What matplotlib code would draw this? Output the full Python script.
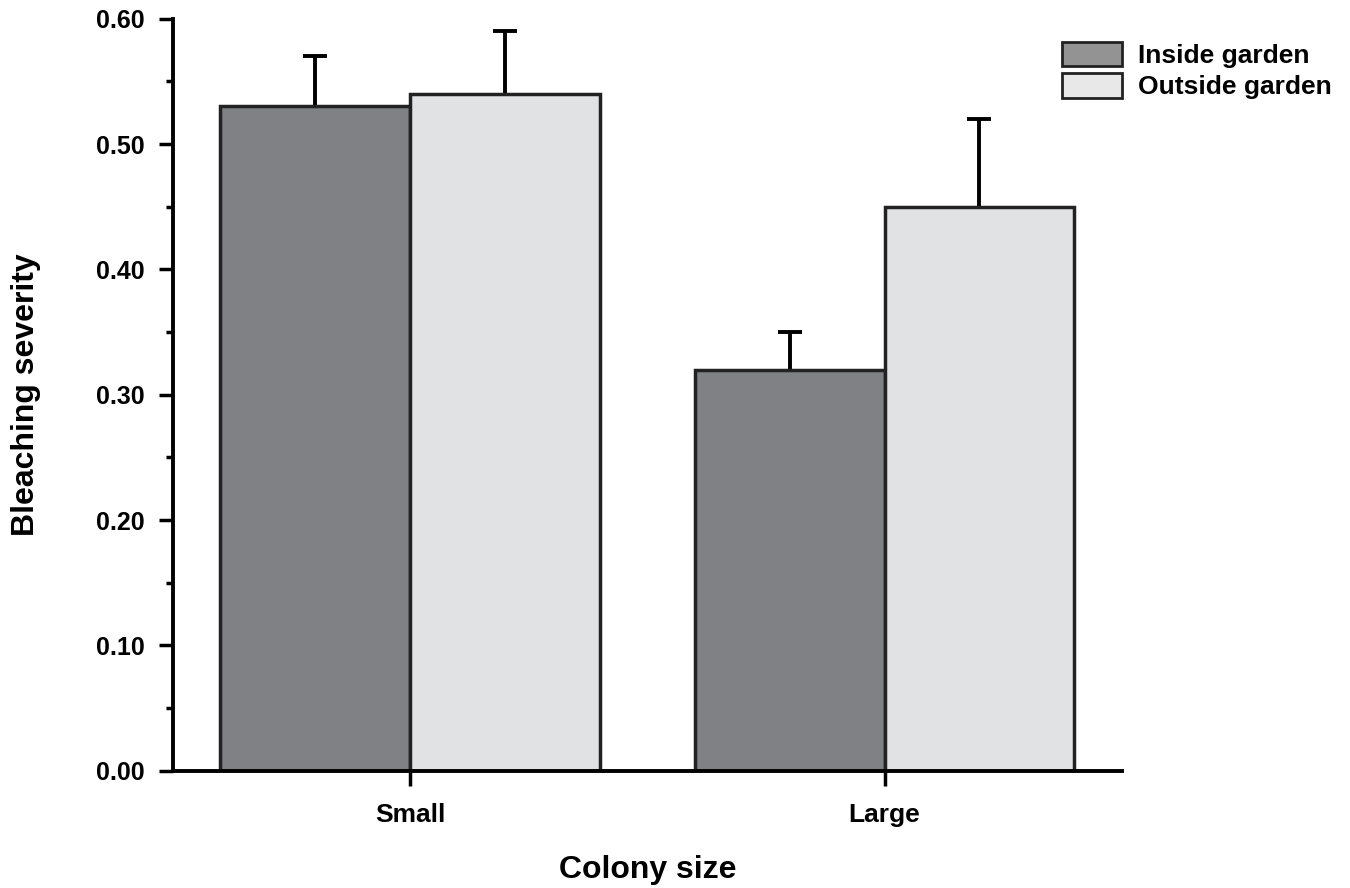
import numpy as np
import matplotlib.pyplot as plt
from matplotlib.patches import Patch

plt.rcParams['font.family'] = ['Liberation Sans', 'DejaVu Sans']
plt.rcParams['font.weight'] = 'bold'

sizes = ['Small', 'Large']
inside_mean = [0.53, 0.32]
inside_err = [0.04, 0.03]
outside_mean = [0.54, 0.45]
outside_err = [0.05, 0.07]

fig = plt.figure(figsize=(13.5, 8.88), dpi=100)
ax = fig.add_axes([0.128, 0.132, 0.703, 0.847])

x = np.arange(len(sizes))
w = 0.4
for off, mean, err, col in [(-w / 2, inside_mean, inside_err, '#808185'),
                            (w / 2, outside_mean, outside_err, '#e1e2e4')]:
    ax.bar(x + off, mean, w, color=col, edgecolor='#222222', linewidth=2.5, zorder=2)
    # upper error only: hide the lower cap
    _, caps, _ = ax.errorbar(x + off, mean, yerr=[np.zeros(len(err)), err], fmt='none',
                             ecolor='black', elinewidth=2.8, capsize=8.5, capthick=2.8, zorder=1)
    caps[0].set_visible(False)

ax.set_xlim(-0.5, 1.5)
ax.set_ylim(0, 0.6)
ax.set_xticks(x)
ax.set_xticklabels(sizes, fontsize=19, fontweight='bold')
ax.set_yticks(np.arange(0, 0.61, 0.1))
ax.set_yticks(np.arange(0.05, 0.6, 0.1), minor=True)
ax.set_yticklabels(['%.2f' % v for v in np.arange(0, 0.61, 0.1)], fontsize=18, fontweight='bold')
ax.tick_params(axis='x', length=11, width=2.5, pad=12)
ax.tick_params(axis='y', which='major', length=10, width=2.5, pad=10)
ax.tick_params(axis='y', which='minor', length=5, width=2.5)

for s in ['top', 'right']:
    ax.spines[s].set_visible(False)
for s in ['left', 'bottom']:
    ax.spines[s].set_linewidth(2.8)

ax.set_xlabel('Colony size', fontsize=23, fontweight='bold', labelpad=20)
ax.set_ylabel('Bleaching severity', fontsize=23, fontweight='bold', labelpad=40)

handles = [Patch(facecolor='#939393', edgecolor='#222222', linewidth=2),
           Patch(facecolor='#e8e8e8', edgecolor='#222222', linewidth=2)]
fig.legend(handles, ['Inside garden', 'Outside garden'], loc='upper left',
           bbox_to_anchor=(0.787, 0.953), frameon=False, fontsize=19,
           handlelength=2.27, handleheight=1.05, handletextpad=0.6, labelspacing=0.2,
           borderpad=0, borderaxespad=0)

fig.savefig('out.png', dpi=100)
